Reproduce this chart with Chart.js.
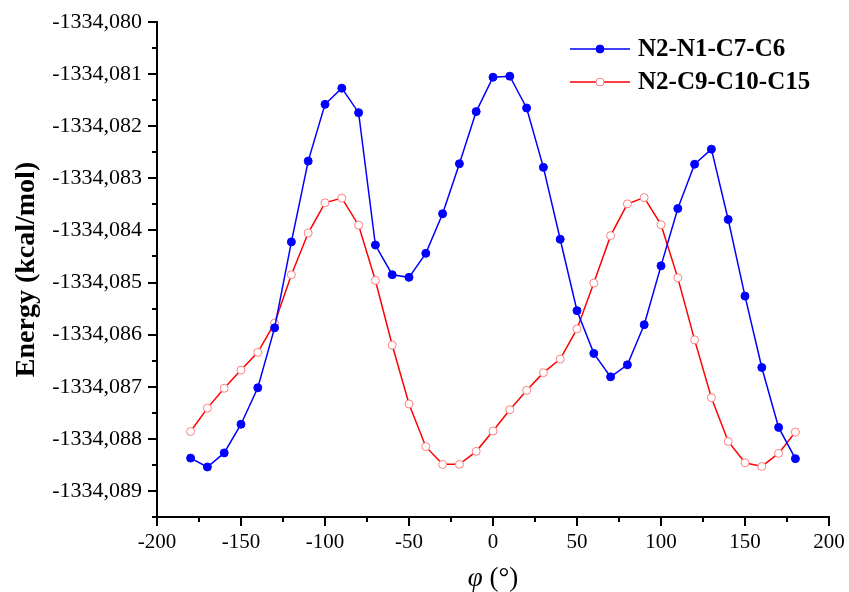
<!DOCTYPE html>
<html>
<head>
<meta charset="utf-8">
<script src="https://cdn.jsdelivr.net/npm/chart.js@4.4.1/dist/chart.umd.min.js"></script>
<style>
    html, body { margin: 0; padding: 0; background: #fff; }
    #wrap { width: 849px; height: 592px; }
</style>
</head>
<body>
<div id="wrap"><canvas id="chart" width="849" height="592"></canvas></div>
<script>
const angles = [-180, -170, -160, -150, -140, -130, -120, -110, -100, -90, -80, -70, -60, -50, -40, -30, -20, -10,
    0, 10, 20, 30, 40, 50, 60, 70, 80, 90, 100, 110, 120, 130, 140, 150, 160, 170, 180];

const energyN2N1C7C6 = [-1334.08837, -1334.08854, -1334.08827, -1334.08772, -1334.08702, -1334.08587, -1334.08422,
    -1334.08267, -1334.08158, -1334.08127, -1334.08174, -1334.08428, -1334.08485, -1334.08490, -1334.08444,
    -1334.08368, -1334.08272, -1334.08172, -1334.08106, -1334.08104, -1334.08165, -1334.08279, -1334.08417,
    -1334.08554, -1334.08636, -1334.08681, -1334.08658, -1334.08581, -1334.08468, -1334.08358, -1334.08273,
    -1334.08244, -1334.08379, -1334.08526, -1334.08663, -1334.08778, -1334.08838];

const energyN2C9C10C15 = [-1334.08786, -1334.08741, -1334.08703, -1334.08668, -1334.08634, -1334.08578, -1334.08485,
    -1334.08405, -1334.08347, -1334.08338, -1334.08390, -1334.08496, -1334.08620, -1334.08733, -1334.08815,
    -1334.08849, -1334.08849, -1334.08824, -1334.08785, -1334.08744, -1334.08707, -1334.08673, -1334.08647,
    -1334.08589, -1334.08501, -1334.08410, -1334.08349, -1334.08337, -1334.08389, -1334.08491, -1334.08610,
    -1334.08721, -1334.08805, -1334.08846, -1334.08853, -1334.08828, -1334.08787];

const seriesLabels = ['N2-N1-C7-C6', 'N2-C9-C10-C15'];
const xTicks = [-200, -150, -100, -50, 0, 50, 100, 150, 200];
const yTicks = [-1334.089, -1334.088, -1334.087, -1334.086, -1334.085, -1334.084, -1334.083, -1334.082, -1334.081, -1334.080];
const yMin = -1334.0895;
const yMax = -1334.080;

const serif = "'Liberation Serif', 'Times New Roman', serif";

// ticks hacia fuera, mayores y menores, ejes y títulos
const axisDecor = {
    id: 'axisDecor',
    afterDraw: (chart) => {
        const ctx = chart.ctx;
        const area = chart.chartArea;
        const xs = chart.scales.x;
        const ys = chart.scales.y;
        ctx.save();
        ctx.strokeStyle = '#000';
        ctx.lineWidth = 2;

        const xMajor = xs.ticks.map(t => t.value);
        xMajor.forEach((v, i) => {
            const px = Math.round(xs.getPixelForValue(v));
            ctx.beginPath(); ctx.moveTo(px, area.bottom); ctx.lineTo(px, area.bottom + 9); ctx.stroke();
            if (i < xMajor.length - 1) {
                const pm = Math.round(xs.getPixelForValue((v + xMajor[i + 1]) / 2));
                ctx.beginPath(); ctx.moveTo(pm, area.bottom); ctx.lineTo(pm, area.bottom + 5); ctx.stroke();
            }
        });

        const yMajor = ys.ticks.map(t => t.value);
        const yMinor = [yMin];
        yMajor.forEach((v, i) => {
            if (i < yMajor.length - 1) yMinor.push((v + yMajor[i + 1]) / 2);
        });
        yMajor.forEach(v => {
            const py = Math.round(ys.getPixelForValue(v));
            ctx.beginPath(); ctx.moveTo(area.left, py); ctx.lineTo(area.left - 9, py); ctx.stroke();
        });
        yMinor.forEach(v => {
            const py = Math.round(ys.getPixelForValue(v));
            ctx.beginPath(); ctx.moveTo(area.left, py); ctx.lineTo(area.left - 5, py); ctx.stroke();
        });

        // título eje Y
        ctx.fillStyle = '#000';
        ctx.save();
        ctx.translate(27, (area.top + area.bottom) / 2);
        ctx.rotate(-Math.PI / 2);
        ctx.font = 'bold 28px ' + serif;
        ctx.textAlign = 'center';
        ctx.textBaseline = 'middle';
        ctx.fillText('Energy (kcal/mol)', 0, 0);
        ctx.restore();

        // título eje X: φ en cursiva
        const phi = 'φ';
        const unit = ' (°)';
        ctx.textBaseline = 'alphabetic';
        ctx.font = 'italic 27px ' + serif;
        const w1 = ctx.measureText(phi).width;
        ctx.font = '27px ' + serif;
        const w2 = ctx.measureText(unit).width;
        const cx = (area.left + area.right) / 2;
        let sx = cx - (w1 + w2) / 2;
        ctx.textAlign = 'left';
        ctx.font = 'italic 27px ' + serif;
        ctx.fillText(phi, sx, 586);
        ctx.font = '27px ' + serif;
        ctx.fillText(unit, sx + w1, 586);

        // leyenda
        chart.data.datasets.forEach((ds, i) => {
            const ly = 49 + i * 33;
            ctx.strokeStyle = ds.borderColor;
            ctx.lineWidth = 1.5;
            ctx.beginPath(); ctx.moveTo(570, ly); ctx.lineTo(630, ly); ctx.stroke();
            ctx.beginPath();
            ctx.arc(600, ly, 4, 0, Math.PI * 2);
            ctx.fillStyle = ds.pointBackgroundColor;
            ctx.fill();
            ctx.lineWidth = 1;
            ctx.strokeStyle = ds.pointBorderColor;
            ctx.stroke();
            ctx.fillStyle = '#000';
            ctx.font = 'bold 25px ' + serif;
            ctx.textBaseline = 'middle';
            ctx.fillText(ds.label, 638, ly + 1);
        });
        ctx.restore();
    }
};

const config = {
    type: 'line',
    data: {
        datasets: [
            {
                label: seriesLabels[0],
                data: angles.map((a, i) => ({ x: a, y: energyN2N1C7C6[i] })),
                borderColor: '#0000ff',
                borderWidth: 1.5,
                pointRadius: 4,
                pointBackgroundColor: '#0000ff',
                pointBorderColor: '#0000ff',
                pointBorderWidth: 1,
                tension: 0
            },
            {
                label: seriesLabels[1],
                data: angles.map((a, i) => ({ x: a, y: energyN2C9C10C15[i] })),
                borderColor: '#ff0000',
                borderWidth: 1.5,
                pointRadius: 4,
                pointBackgroundColor: '#ffffff',
                pointBorderColor: '#ff7f7f',
                pointBorderWidth: 1,
                tension: 0
            }
        ]
    },
    options: {
        responsive: false,
        animation: false,
        layout: { padding: { left: 0, right: 20, top: 22, bottom: 0 } },
        plugins: {
            legend: { display: false },
            tooltip: { enabled: false }
        },
        scales: {
            x: {
                type: 'linear',
                min: -200,
                max: 200,
                afterBuildTicks: (scale) => { scale.ticks = xTicks.map(v => ({ value: v })); },
                afterFit: (scale) => {
                    scale.height = 75;
                    scale.paddingLeft = 0;
                    scale.paddingRight = 0;
                },
                grid: { display: true, drawOnChartArea: false, drawTicks: false },
                border: { display: true, color: '#000', width: 2 },
                ticks: {
                    color: '#000',
                    padding: 13,
                    maxRotation: 0,
                    font: { family: serif, size: 21 },
                    callback: (value) => String(value)
                }
            },
            y: {
                type: 'linear',
                min: yMin,
                max: yMax,
                afterBuildTicks: (scale) => { scale.ticks = yTicks.map(v => ({ value: v })); },
                afterFit: (scale) => {
                    scale.width = 157;
                    scale.paddingTop = 0;
                    scale.paddingBottom = 0;
                },
                grid: { display: true, drawOnChartArea: false, drawTicks: false },
                border: { display: true, color: '#000', width: 2 },
                ticks: {
                    color: '#000',
                    padding: 15,
                    font: { family: serif, size: 22 },
                    callback: (value) => value.toFixed(3).replace('.', ',')
                }
            }
        }
    },
    plugins: [axisDecor]
};

new Chart(document.getElementById('chart'), config);
</script>
</body>
</html>
